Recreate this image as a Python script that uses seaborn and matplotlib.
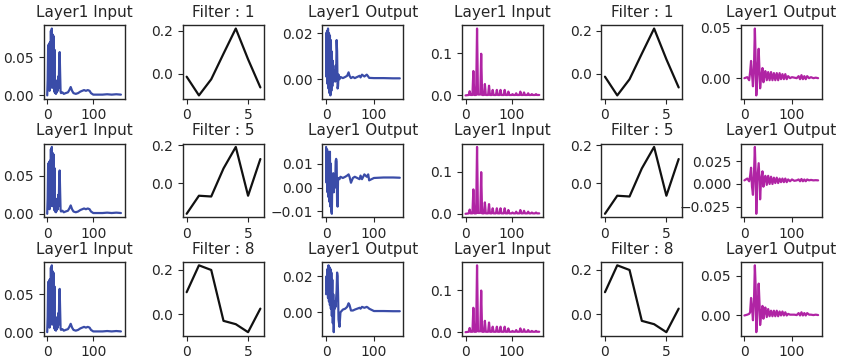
import numpy as np
import pandas as pd
import matplotlib
matplotlib.use("Agg")
import matplotlib.pyplot as plt
import seaborn as sns

# signal 1 (blue) - input spectrum
blue_in_x = [0, 1, 2, 3, 4, 5, 6, 7, 8, 9, 10, 11, 12, 13, 14, 15, 16, 17, 18, 19, 20,
             21, 22, 23, 24, 25, 26, 27, 28, 29, 30, 33, 36, 40, 45, 48, 51, 54, 57, 62,
             67, 72, 76, 80, 84, 88, 92, 95, 100, 110, 120, 130, 140, 150, 160]
blue_in_y = [0.0, 0.02, 0.066, 0.01, 0.068, 0.006, 0.07, 0.01, 0.085, 0.02, 0.088,
             0.01, 0.08, 0.015, 0.078, 0.005, 0.06, 0.003, 0.008, 0.002, 0.01,
             0.004, 0.02, 0.006, 0.025, 0.01, 0.045, 0.057, 0.03, 0.005, 0.003,
             0.004, 0.002, 0.003, 0.004, 0.007, 0.011, 0.006, 0.003, 0.002,
             0.003, 0.005, 0.006, 0.007, 0.006, 0.007, 0.006, 0.003, 0.001,
             0.001, 0.001, 0.0015, 0.001, 0.0015, 0.001]

# signal 2 (purple) - input spectrum
purple_in_x = [0, 7, 9, 11, 15, 17, 19, 23, 25, 27, 32, 34, 36, 40, 42, 44, 49, 51, 53,
               57, 59, 61, 66, 68, 70, 74, 76, 78, 83, 85, 87, 91, 93, 95, 100, 102, 104,
               108, 110, 112, 117, 119, 121, 125, 127, 129, 134, 136, 138, 142, 144, 146,
               151, 153, 155, 160]
purple_in_y = [0.0, 0.001, 0.010, 0.001, 0.001, 0.058, 0.001, 0.001, 0.159, 0.002,
               0.002, 0.099, 0.001, 0.001, 0.027, 0.001, 0.001, 0.023, 0.001,
               0.001, 0.013, 0.001, 0.001, 0.013, 0.001, 0.001, 0.013, 0.001,
               0.001, 0.013, 0.001, 0.001, 0.009, 0.001, 0.001, 0.003, 0.001,
               0.001, 0.005, 0.001, 0.001, 0.009, 0.001, 0.001, 0.007, 0.001,
               0.001, 0.005, 0.001, 0.001, 0.003, 0.001, 0.001, 0.003, 0.001, 0.001]

# filters (7 taps)
taps = [0, 1, 2, 3, 4, 5, 6]
filter_ids = [1, 5, 8]
filters = [
    [-0.013, -0.10, -0.025, 0.094, 0.211, 0.068, -0.063],
    [-0.158, -0.064, -0.068, 0.078, 0.19, -0.064, 0.127],
    [0.10, 0.221, 0.20, -0.029, -0.044, -0.08, 0.026],
]

# layer outputs, blue signal
blue_out_x = [0, 1, 2, 3, 4, 5, 6, 7, 8, 9, 10, 11, 12, 13, 14, 15, 16, 17, 18, 19, 20,
              21, 22, 23, 24, 25, 26, 28, 30, 35, 40, 44, 47, 49, 52, 56, 60, 65, 70,
              72, 75, 80, 85, 88, 90, 100, 120, 140, 154]
blue_out_1 = [0.02, 0.001, 0.021, -0.002, 0.022, -0.004, 0.02, -0.006, 0.019, -0.007,
              0.017, -0.005, 0.012, -0.003, 0.008, -0.001, 0.004, 0.0, 0.003, -0.001,
              0.006, 0.002, 0.017, 0.012, -0.004, -0.003, 0.002,
              0.0, 0.001, 0.0005, 0.001, 0.0015, 0.003, 0.0015, 0.0005, 0.001,
              0.0005, 0.001, 0.0015, 0.0008, 0.002, 0.0012, 0.002, 0.0012, 0.0006,
              0.0005, 0.0005, 0.0004, 0.0004]
blue_out_5 = [0.017, 0.002, 0.016, -0.002, 0.015, -0.004, 0.014, -0.006, 0.015, -0.008,
              0.01, -0.01, -0.011, 0.004, 0.002, 0.006, -0.002, 0.005, 0.003, 0.0,
              0.011, 0.012, 0.011, -0.006, -0.008, 0.004, 0.0035,
              0.0035, 0.0045, 0.004, 0.0045, 0.005, 0.0055, 0.0045, 0.002, 0.004,
              0.0045, 0.004, 0.0035, 0.005, 0.0035, 0.0055, 0.0045, 0.0055, 0.003,
              0.004, 0.0042, 0.0042, 0.0041]
blue_out_8 = [0.01, 0.02, 0.012, 0.024, 0.008, 0.026, 0.006, 0.025, 0.004, 0.024,
              0.002, 0.022, -0.002, 0.018, -0.006, 0.01, -0.011, 0.004, 0.002, 0.006,
              0.003, 0.008, 0.012, 0.022, 0.02, 0.01, -0.004,
              -0.008, 0.0, 0.0015, 0.002, 0.003, 0.005, 0.004, 0.001, 0.001,
              0.0015, 0.002, 0.0025, 0.002, 0.003, 0.0025, 0.003, 0.0025, 0.002,
              0.0007, 0.0007, 0.0006, 0.0006]

# layer outputs, purple signal
purple_out_x = [0, 6, 10, 12, 14, 16, 18, 20, 22, 24, 25, 27, 30, 32, 33, 35, 38, 40,
                42, 44, 47, 50, 53, 56, 59, 62, 65, 68, 71, 74, 77, 80, 83, 86, 89, 92,
                96, 100, 105, 110, 114, 117, 120, 123, 126, 129, 132, 136, 140, 145,
                150, 155]
purple_out_1 = [0.0, 0.001, -0.002, 0.006, 0.017, 0.004, -0.008, 0.008, 0.049, 0.012,
                -0.017, 0.0, 0.029, 0.004, -0.010, 0.0, 0.010, -0.004, 0.003, 0.007,
                -0.002, 0.006, -0.002, 0.006, -0.002, 0.005, -0.002, 0.005, -0.002, 0.005,
                -0.001, 0.004, -0.001, 0.004, -0.001, 0.002, 0.0, 0.001, 0.0005, 0.0,
                0.002, -0.001, 0.003, -0.001, 0.002, -0.001, 0.002, 0.0, 0.001, 0.0,
                0.0005, 0.0]
purple_out_5 = [0.004, 0.006, 0.003, 0.009, 0.018, -0.003, -0.012, 0.01, 0.041, 0.005,
                -0.033, 0.004, 0.023, 0.002, -0.017, 0.004, 0.014, -0.003, 0.005, 0.009,
                -0.001, 0.009, 0.0, 0.008, 0.0, 0.007, 0.001, 0.007, 0.001, 0.006,
                0.002, 0.006, 0.002, 0.006, 0.002, 0.005, 0.003, 0.005, 0.0035, 0.004,
                0.005, 0.003, 0.0055, 0.003, 0.005, 0.003, 0.005, 0.004, 0.0045, 0.004,
                0.0042, 0.004]
purple_out_8 = [0.0, 0.001, 0.002, 0.004, 0.022, 0.01, -0.006, 0.015, 0.063, 0.03,
                -0.021, 0.0, 0.04, 0.012, -0.012, 0.0, 0.012, -0.004, 0.004, 0.01,
                -0.002, 0.008, -0.001, 0.006, -0.001, 0.006, -0.001, 0.006, -0.001, 0.005,
                0.0, 0.005, 0.0, 0.004, 0.0, 0.002, 0.001, 0.001, 0.001, 0.0005,
                0.003, 0.0, 0.004, 0.0, 0.003, 0.0, 0.003, 0.001, 0.001, 0.0005,
                0.001, 0.0005]

blue_outs = [blue_out_1, blue_out_5, blue_out_8]
purple_outs = [purple_out_1, purple_out_5, purple_out_8]

BLUE = '#3a4ca8'
PURPLE = '#b024a4'

sns.set_style("ticks")
plt.rcParams['font.family'] = ['DejaVu Sans']
plt.rcParams['xtick.labelsize'] = 10
plt.rcParams['ytick.labelsize'] = 10
plt.rcParams['axes.titlesize'] = 11

fig, axes = plt.subplots(3, 6, figsize=(8.42, 3.6), dpi=100)
fig.subplots_adjust(left=0.0517, right=0.976, top=0.93, bottom=0.068,
                    wspace=0.72, hspace=0.61)

for r in range(3):
    # blue signal
    sns.lineplot(x=blue_in_x, y=blue_in_y, ax=axes[r, 0], color=BLUE, linewidth=1.6)
    axes[r, 0].set_title('Layer1 Input')
    sns.lineplot(x=taps, y=filters[r], ax=axes[r, 1], color='#111111', linewidth=1.6)
    axes[r, 1].set_title(f'Filter : {filter_ids[r]}')
    sns.lineplot(x=blue_out_x, y=blue_outs[r], ax=axes[r, 2], color=BLUE, linewidth=1.6)
    axes[r, 2].set_title('Layer1 Output')

    # purple signal
    sns.lineplot(x=purple_in_x, y=purple_in_y, ax=axes[r, 3], color=PURPLE, linewidth=1.6)
    axes[r, 3].set_title('Layer1 Input')
    sns.lineplot(x=taps, y=filters[r], ax=axes[r, 4], color='#111111', linewidth=1.6)
    axes[r, 4].set_title(f'Filter : {filter_ids[r]}')
    sns.lineplot(x=purple_out_x, y=purple_outs[r], ax=axes[r, 5], color=PURPLE, linewidth=1.6)
    axes[r, 5].set_title('Layer1 Output')

# bottom-row blue output uses 0.02 steps in the reference
axes[2, 2].set_yticks([0.0, 0.02])

for ax in axes.flat:
    ax.set_xlabel('')
    ax.set_ylabel('')
    for s in ax.spines.values():
        s.set_linewidth(1.0)

fig.savefig('out.png', dpi=100)
